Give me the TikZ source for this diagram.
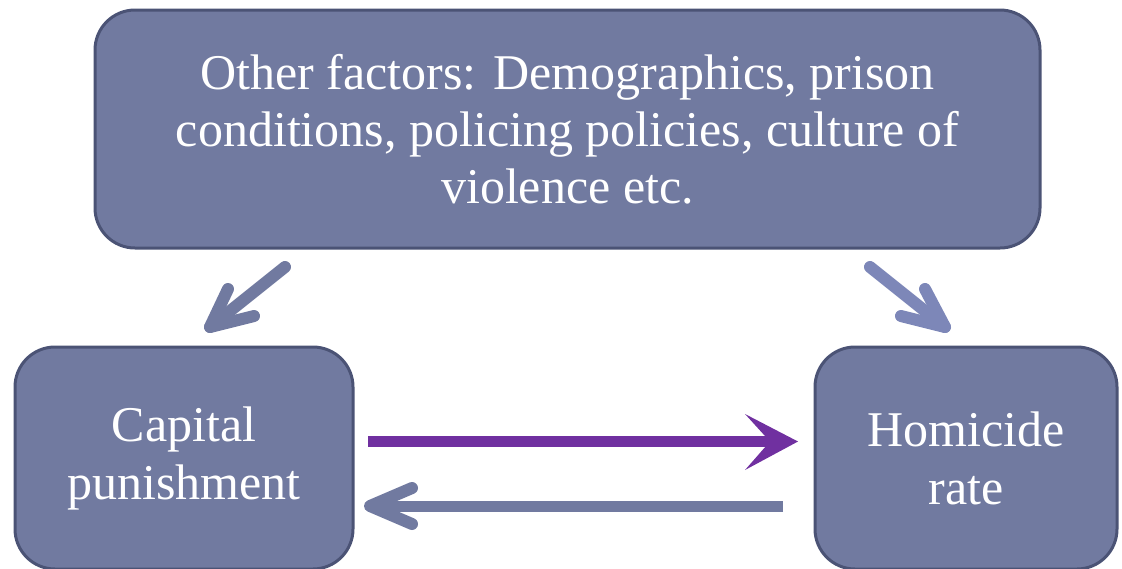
\documentclass[tikz,border=0pt]{standalone}
\usepackage{fontspec}
\setmainfont{Liberation Serif}
\definecolor{boxfill}{HTML}{717AA0}
\definecolor{boxline}{HTML}{4B5375}
\definecolor{purp}{HTML}{7030A0}
\definecolor{lightarr}{HTML}{7D87B8}
\tikzset{
  box/.style={draw=boxline, fill=boxfill, line width=3pt, rounded corners=40pt,
    text=white, align=center, inner sep=0pt, font=\fontsize{50}{57}\selectfont},
  grayarrow/.style={draw=boxfill, line width=12pt, line cap=round, line join=round},
}
\begin{document}
\begin{tikzpicture}[x=1pt,y=-1pt]
\useasboundingbox (0,0) rectangle (1122,568);
\node[box, minimum width=945pt, minimum height=238pt] (top) at (567.5,129)
  {Other factors: Demographics, prison\\conditions, policing policies, culture of\\violence etc.};
\node[box, minimum width=338pt, minimum height=222pt, font=\fontsize{50}{58}\selectfont] (cap) at (184,458)
  {Capital\\punishment};
\node[box, minimum width=302pt, minimum height=222pt, font=\fontsize{50}{58}\selectfont] (hom) at (966,458)
  {Homicide\\rate};
% diagonal arrows
\coordinate (l1) at (285,267);
\coordinate (l2) at (210,327);
\draw[grayarrow] (l1) -- (l2);
\draw[grayarrow] (228,289) -- (l2) -- (254,316);
\coordinate (r1) at (870,267);
\coordinate (r2) at (945,327);
\draw[grayarrow, draw=lightarr] (r1) -- (r2);
\draw[grayarrow, draw=lightarr] (925,289) -- (r2) -- (901,316);
% purple arrow
\coordinate (p1) at (368,441.5);
\coordinate (p2) at (798,441.5);
\draw[purp, line width=11pt] (p1) -- (770,441.5);
\fill[purp] (p2) -- (745,414) -- (770,441.5) -- (745,470) -- cycle;
% return arrow
\coordinate (b1) at (783,506);
\coordinate (b2) at (370,506);
\draw[draw=boxfill, line width=11pt] (b1) -- (b2);
\draw[grayarrow, line width=12pt] (412,488) -- (b2) -- (412,524);
\end{tikzpicture}
\end{document}
